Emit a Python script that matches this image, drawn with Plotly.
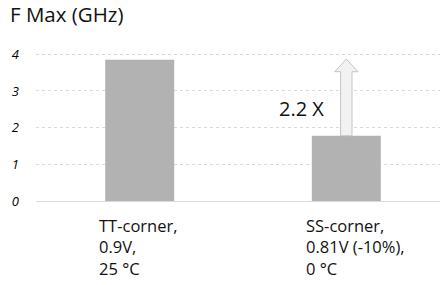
import plotly.graph_objects as go

categories = ["TT-corner,<br>0.9V,<br>25 °C", "SS-corner,<br>0.81V (-10%),<br>0 °C"]
fmax_ghz = [3.85, 1.78]
ratio_label = "2.2 X"
y_ticks = [0, 1, 2, 3, 4]
title_text = "F Max (GHz)"

FONT = "Open Sans, Noto Sans, sans-serif"
bar_w = 0.334
xs = list(range(len(categories)))

fig = go.Figure()
fig.add_trace(go.Bar(x=xs, y=fmax_ghz, width=bar_w, marker=dict(color="#b2b2b2", line=dict(width=0)),
                     hoverinfo="skip"))

# upward arrow from second bar top to first bar height
x2 = xs[1]
y0 = fmax_ghz[1]
y1 = fmax_ghz[0] + 0.02
sw = 0.0276
hw = 0.056
hh = 0.345
path = (f"M {x2-sw} {y0} L {x2-sw} {y1-hh} L {x2-hw} {y1-hh} L {x2} {y1} "
        f"L {x2+hw} {y1-hh} L {x2+sw} {y1-hh} L {x2+sw} {y0} Z")
fig.add_shape(type="path", path=path, xref="x", yref="y", fillcolor="#f2f2f2",
              line=dict(color="#c4c4c4", width=1))

fig.add_annotation(x=x2 - 0.219, y=(y0 + y1) / 2 - 0.29, xref="x", yref="y", text=ratio_label,
                   showarrow=False, font=dict(family=FONT, size=20, color="#111111"))

for xi, cat in zip(xs, categories):
    fig.add_annotation(x=xi - bar_w / 2, y=0, xref="x", yref="y", yanchor="top", xanchor="left",
                       xshift=-8, yshift=-11, text=cat, align="left", showarrow=False,
                       font=dict(family=FONT, size=16.5, color="#111111"))

fig.update_layout(
    width=442, height=285,
    margin=dict(l=36, r=2, t=46, b=84),
    paper_bgcolor="white", plot_bgcolor="white",
    showlegend=False,
    title=dict(text=title_text, x=10 / 442, xref="container", xanchor="left",
               y=1 - 15 / 285, yref="container", yanchor="middle",
               font=dict(family=FONT, size=20.5, color="#111111"), pad=dict(l=0, t=0, b=0, r=0)),
    xaxis=dict(range=[-0.502, 1.4535], showticklabels=False, showgrid=False, zeroline=False,
               showline=False, fixedrange=True),
    yaxis=dict(range=[0, 4.226], tickvals=y_ticks, ticktext=[str(v) for v in y_ticks],
               showgrid=True, gridcolor="#d9d9d9", griddash="dot", gridwidth=1,
               zeroline=True, zerolinecolor="#d9d9d9", zerolinewidth=1,
               tickfont=dict(family=FONT, size=13, color="#000000", style="italic"),
               ticklabelstandoff=16, showline=False, fixedrange=True),
)
fig.write_html("out.html", config={"displayModeBar": False},
               post_script="document.body.style.margin='0';")
